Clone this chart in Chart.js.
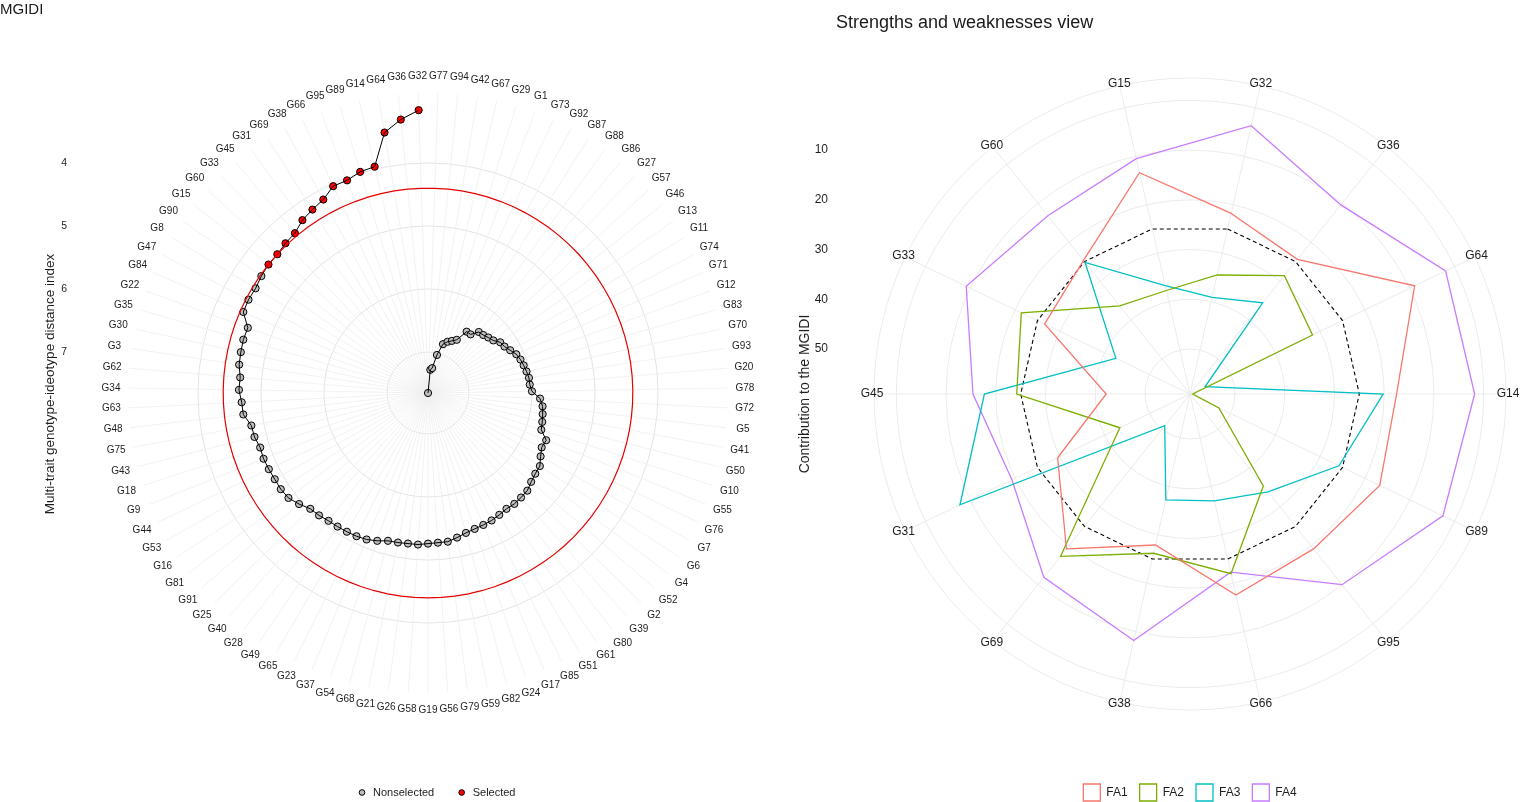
<!DOCTYPE html>
<html>
<head>
<meta charset="utf-8">
<title>MGIDI</title>
<script src="https://cdn.jsdelivr.net/npm/chart.js@4.4.1/dist/chart.umd.min.js"></script>
<style>
  html, body { margin: 0; padding: 0; background: #fff; overflow: hidden; }
  body { width: 1522px; height: 802px; position: relative; font-family: "Liberation Sans", Arial, sans-serif; }
  .plot { position: absolute; top: 0; height: 802px; }
  #left-wrap { left: 0; width: 760px; }
  #right-wrap { left: 760px; width: 762px; }
  .plot-title { position: absolute; color: #1a1a1a; white-space: nowrap; }
  #left-title { left: 0; top: 1px; font-size: 15px; line-height: 15px; }
  #right-title { left: 836px; top: 13px; font-size: 18px; line-height: 18px; }
</style>
</head>
<body>
<div class="plot" id="left-wrap"><canvas id="mgidi-chart"></canvas></div>
<div class="plot" id="right-wrap"><canvas id="sw-chart"></canvas></div>
<div class="plot-title" id="left-title">MGIDI</div>
<div class="plot-title" id="right-title">Strengths and weaknesses view</div>

<script>
// genotypes clockwise from the top, as drawn around the MGIDI ring
const genotypes = [
  'G32','G77','G94','G42','G67','G29','G1','G73','G92','G87',
  'G88','G86','G27','G57','G46','G13','G11','G74','G71','G12',
  'G83','G70','G93','G20','G78','G72','G5','G41','G50','G10',
  'G55','G76','G7','G6','G4','G52','G2','G39','G80','G61',
  'G51','G85','G17','G24','G82','G59','G79','G56','G19','G58',
  'G26','G21','G68','G54','G37','G23','G65','G49','G28','G40',
  'G25','G91','G81','G16','G53','G44','G9','G18','G43','G75',
  'G48','G63','G34','G62','G3','G30','G35','G22','G84','G47',
  'G8','G90','G15','G60','G33','G45','G31','G69','G38','G66',
  'G95','G89','G14','G64','G36'
];
const mgidi = [
  3.16, 7.65, 7.28, 7.25, 7.03, 6.84, 6.78, 6.74, 6.69, 6.50,
  6.50, 6.39, 6.38, 6.35, 6.32, 6.25, 6.23, 6.18, 6.12, 6.09,
  6.07, 6.05, 6.03, 6.03, 6.00, 5.87, 5.82, 5.80, 5.78, 5.76,
  5.63, 5.65, 5.60, 5.53, 5.52, 5.49, 5.44, 5.43, 5.42, 5.43,
  5.41, 5.39, 5.38, 5.37, 5.35, 5.31, 5.27, 5.27, 5.26, 5.24,
  5.24, 5.23, 5.22, 5.17, 5.13, 5.11, 5.10, 5.09, 5.08, 5.05,
  5.03, 4.95, 4.88, 4.86, 4.86, 4.85, 4.84, 4.85, 4.81, 4.80,
  4.70, 4.69, 4.65, 4.66, 4.62, 4.61, 4.60, 4.61, 4.45, 4.44,
  4.45, 4.42, 4.40, 4.40, 4.37, 4.35, 4.26, 4.21, 4.16, 4.04,
  4.04, 3.98, 3.96, 3.46, 3.29
];
const selected = ['G32','G36','G64','G14','G89','G95','G66','G38','G69','G31','G45','G33','G60','G15'];
const cutoff = 4.40;
const mgidiTicks = [4, 5, 6, 7];

// strengths and weaknesses of the selected genotypes
const swGenotypes = ['G32','G36','G64','G14','G89','G95','G66','G38','G69','G31','G45','G33','G60','G15'];
const fa1 = [21.8, 24.4,  8.9, 17.5, 16.7, 19.2, 17.6, 27.9, 19.2, 29.5, 42.2, 26.6, 24.7, 13.4];
const fa2 = [34.5, 28.6, 31.7, 58.5, 52.6, 35.4, 22.0, 26.2, 17.3, 43.4, 24.2, 21.4, 36.4, 37.7];
const fa3 = [39.1, 35.6, 55.7, 20.2, 25.8, 33.9, 37.0, 37.2, 50.9,  7.7, 17.7, 42.5, 25.2, 36.7];
const fa4 = [ 3.7, 10.4,  2.0,  1.8,  2.6, 10.0, 22.3,  8.2, 11.9, 19.3, 15.4,  9.1, 13.2, 10.5];
const expected = 25;
const contribTicks = [10, 20, 30, 40, 50];

const FONT = '"Liberation Sans", Arial, sans-serif';
const GRID = '#ebebeb';

// keep the radial scale where the panel sits, whatever the legend takes
function pinScale(cx, cy, radius) {
  return scale => {
    scale.xCenter = cx;
    scale.yCenter = cy;
    scale.drawingArea = radius;
  };
}

// genotype names around the ring, plus a ggplot-like y axis on the left
const ringText = {
  id: 'ringText',
  afterDraw(chart, args, o) {
    const r = chart.scales.r;
    const ctx = chart.ctx;
    ctx.save();
    ctx.fillStyle = '#1e1e1e';
    ctx.textAlign = 'center';
    ctx.textBaseline = 'middle';
    ctx.font = `${o.labelSize}px ${FONT}`;
    chart.data.labels.forEach((lab, i) => {
      const p = r.getPointPosition(i, r.drawingArea + o.labelGap);
      ctx.fillText(lab, p.x, p.y);
    });

    ctx.font = `${o.tickSize}px ${FONT}`;
    ctx.textAlign = 'right';
    o.ticks.forEach(v => {
      ctx.fillText(String(v), o.tickX, r.yCenter - r.getDistanceFromCenterForValue(v));
    });

    ctx.font = `${o.titleSize}px ${FONT}`;
    ctx.textAlign = 'center';
    ctx.translate(o.titleX, r.yCenter + o.titleShift);
    ctx.rotate(-Math.PI / 2);
    ctx.fillText(o.title, 0, 0);
    ctx.restore();
  }
};

const isSel = genotypes.map(g => selected.includes(g));
const last = genotypes.length - 1;

new Chart(document.getElementById('mgidi-chart'), {
  type: 'radar',
  plugins: [ringText],
  data: {
    labels: genotypes,
    datasets: [
      {
        label: 'cutoff',
        data: genotypes.map(() => cutoff),
        borderColor: '#e30000',
        borderWidth: 1.2
      },
      // ranking path: the radar loop would join the best and the worst
      // genotype, so it is split into the long run and the G36-G32 step
      {
        label: 'path',
        data: mgidi.map((v, i) => i === 0 ? null : v),
        borderColor: '#000',
        borderWidth: 1
      },
      {
        label: 'path-head',
        data: mgidi.map((v, i) => (i === 0 || i === last) ? v : null),
        borderColor: '#000',
        borderWidth: 1
      },
      {
        label: 'Nonselected',
        data: mgidi.map((v, i) => isSel[i] ? null : v),
        showLine: false,
        pointRadius: 3.6,
        pointBorderWidth: 1,
        pointBackgroundColor: '#bebebe',
        pointBorderColor: '#000'
      },
      {
        label: 'Selected',
        data: mgidi.map((v, i) => isSel[i] ? v : null),
        showLine: false,
        pointRadius: 3.6,
        pointBorderWidth: 1,
        pointBackgroundColor: '#ff0000',
        pointBorderColor: '#000'
      }
    ].map(d => Object.assign({ backgroundColor: 'rgba(0,0,0,0)', pointRadius: 0, fill: false, spanGaps: false }, d))
  },
  options: {
    responsive: true,
    maintainAspectRatio: false,
    animation: false,
    layout: { padding: { left: 112, right: 0, top: 0, bottom: -6 } },
    plugins: {
      tooltip: { enabled: false },
      legend: {
        position: 'bottom',
        labels: {
          filter: item => item.text === 'Nonselected' || item.text === 'Selected',
          usePointStyle: true,
          pointStyle: 'circle',
          boxWidth: 11,
          boxHeight: 4,
          padding: 22,
          color: '#1e1e1e',
          font: { family: FONT, size: 11 }
        }
      },
      ringText: {
        labelSize: 10, labelGap: 17,
        ticks: mgidiTicks, tickX: 67, tickSize: 10.5,
        title: 'Multi-trait genotype-ideotype distance index', titleX: 50, titleShift: -9, titleSize: 13.5
      }
    },
    scales: {
      r: {
        reverse: true,
        min: 2.89,
        max: 7.65,
        startAngle: -180 / genotypes.length,
        ticks: { display: false, stepSize: 1 },
        pointLabels: { display: false },
        grid: {
          circular: true,
          color: ctx => mgidiTicks.includes(ctx.tick.value) ? '#e4e4e4' : 'rgba(0,0,0,0)'
        },
        angleLines: { color: '#efefef', lineWidth: 0.8 },
        afterFit: pinScale(428, 393, 300)
      }
    }
  }
});

new Chart(document.getElementById('sw-chart'), {
  type: 'radar',
  plugins: [ringText],
  data: {
    labels: swGenotypes,
    datasets: [
      { label: 'FA1', data: fa1, borderColor: '#F8766D' },
      { label: 'FA2', data: fa2, borderColor: '#7CAE00' },
      { label: 'FA3', data: fa3, borderColor: '#00BFC4' },
      { label: 'FA4', data: fa4, borderColor: '#C77CFF' },
      { label: 'expected', data: swGenotypes.map(() => expected), borderColor: '#000', borderDash: [4, 3], borderWidth: 1.1 }
    ].map(d => Object.assign({ backgroundColor: 'rgba(0,0,0,0)', borderWidth: 1.3, pointRadius: 0, fill: false }, d))
  },
  options: {
    responsive: true,
    maintainAspectRatio: false,
    animation: false,
    layout: { padding: { left: 98, right: 0, top: 0, bottom: -9 } },
    plugins: {
      tooltip: { enabled: false },
      legend: {
        position: 'bottom',
        labels: {
          filter: item => item.text !== 'expected',
          boxWidth: 17,
          boxHeight: 17,
          padding: 12,
          color: '#1e1e1e',
          font: { family: FONT, size: 12 }
        }
      },
      ringText: {
        labelSize: 12, labelGap: 2,
        ticks: contribTicks, tickX: 68, tickSize: 12,
        title: 'Contribution to the MGIDI', titleX: 45, titleShift: 0, titleSize: 14
      }
    },
    scales: {
      r: {
        reverse: true,
        min: -4.5,
        max: 59.05,
        startAngle: 180 / swGenotypes.length,
        ticks: { display: false, stepSize: 10 },
        pointLabels: { display: false },
        grid: { circular: true, color: GRID },
        angleLines: { color: GRID },
        afterFit: pinScale(430, 394, 316)
      }
    }
  }
});
</script>
</body>
</html>
